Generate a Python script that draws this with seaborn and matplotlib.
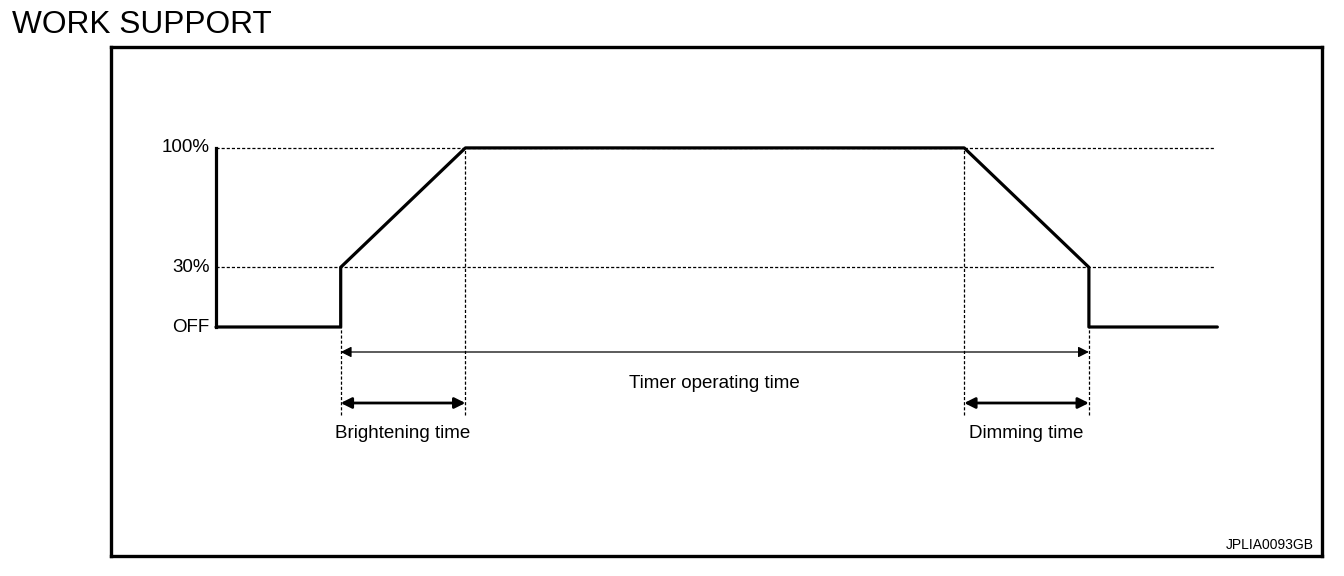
import matplotlib
matplotlib.use("Agg")
import matplotlib.pyplot as plt
import seaborn as sns
import pandas as pd

# ---- data ----
times = [0, 1, 1, 2, 6, 7, 7, 8.03]       # time units
levels = [0, 0, 1, 3, 3, 1, 0, 0]         # level index (0=OFF, 1=30%, 3=100%)
level_ticks = [0, 1, 3]
level_labels = ["OFF", "30%", "100%"]
t_on, t_full, t_dim, t_off, t_end = 1, 2, 6, 7, 8.0
title = "WORK SUPPORT"
timer_label = "Timer operating time"
bright_label = "Brightening time"
dim_label = "Dimming time"
code_label = "JPLIA0093GB"

sns.set_theme(style="white")
plt.rcParams["font.family"] = ["Liberation Sans", "DejaVu Sans"]
plt.rcParams["text.color"] = "black"

W, H = 1344, 576
fig = plt.figure(figsize=(W / 100, H / 100), dpi=100)
fig.patch.set_facecolor("white")

# box region in pixels
bl, br, bt, bb = 111, 1322, 47, 556
ax = fig.add_axes([bl / W, 1 - bb / H, (br - bl) / W, (bb - bt) / H])
xu, yu = 124.7, 59.7
ax.set_xlim((bl - 216) / xu, (br - 216) / xu)
ax.set_ylim((327 - bb) / yu, (327 - bt) / yu)
ax.set_xticks([]); ax.set_yticks([])
for s in ax.spines.values():
    s.set_visible(True)
    s.set_color("black")
    s.set_linewidth(2.4)

df = pd.DataFrame({"time": times, "level": levels})

dash = (0, (2.5, 1.6))
for lv in level_ticks[1:]:
    ax.plot([0, t_end], [lv, lv], color="black", lw=0.9, linestyle=dash)
ylow = (327 - 415) / yu
ax.plot([t_on, t_on], [ylow, 0], color="black", lw=0.9, linestyle=dash)
ax.plot([t_off, t_off], [ylow, 0], color="black", lw=0.9, linestyle=dash)
ax.plot([t_full, t_full], [ylow, 3], color="black", lw=0.9, linestyle=dash)
ax.plot([t_dim, t_dim], [ylow, 3], color="black", lw=0.9, linestyle=dash)

ax.plot([0, 0], [0, 3], color="black", lw=2.3, solid_capstyle="projecting")
sns.lineplot(data=df, x="time", y="level", estimator=None, sort=False,
             color="black", lw=2.3, ax=ax)
ax.set_xlabel(""); ax.set_ylabel("")

for lv, lab in zip(level_ticks, level_labels):
    ax.text(-0.05, lv, lab, ha="right", va="center", fontsize=13.5, color="black")

y_timer = (327 - 352) / yu
y_sub = (327 - 403) / yu
ax.annotate("", xy=(t_on, y_timer), xytext=(t_off, y_timer),
            arrowprops=dict(arrowstyle="<|-|>", color="black", lw=0.9,
                            mutation_scale=16, shrinkA=0, shrinkB=0))
ax.annotate("", xy=(t_on, y_sub), xytext=(t_full, y_sub),
            arrowprops=dict(arrowstyle="<|-|>", color="black", lw=2.0,
                            mutation_scale=16, shrinkA=0, shrinkB=0))
ax.annotate("", xy=(t_dim, y_sub), xytext=(t_off, y_sub),
            arrowprops=dict(arrowstyle="<|-|>", color="black", lw=2.0,
                            mutation_scale=16, shrinkA=0, shrinkB=0))

ax.text((t_on + t_off) / 2, (327 - 383) / yu, timer_label, ha="center", va="center", fontsize=13.5, color="black")
ax.text((t_on + t_full) / 2, (327 - 433) / yu, bright_label, ha="center", va="center", fontsize=13.5, color="black")
ax.text((t_dim + t_off) / 2, (327 - 433) / yu, dim_label, ha="center", va="center", fontsize=13.5, color="black")
ax.text((1314 - 216) / xu, (327 - 545) / yu, code_label, ha="right", va="center", fontsize=10, color="black")

fig.text(12 / W, 1 - 25 / H, title, ha="left", va="center", fontsize=22.8, color="black")

fig.savefig("out.png", dpi=100, facecolor="white")
